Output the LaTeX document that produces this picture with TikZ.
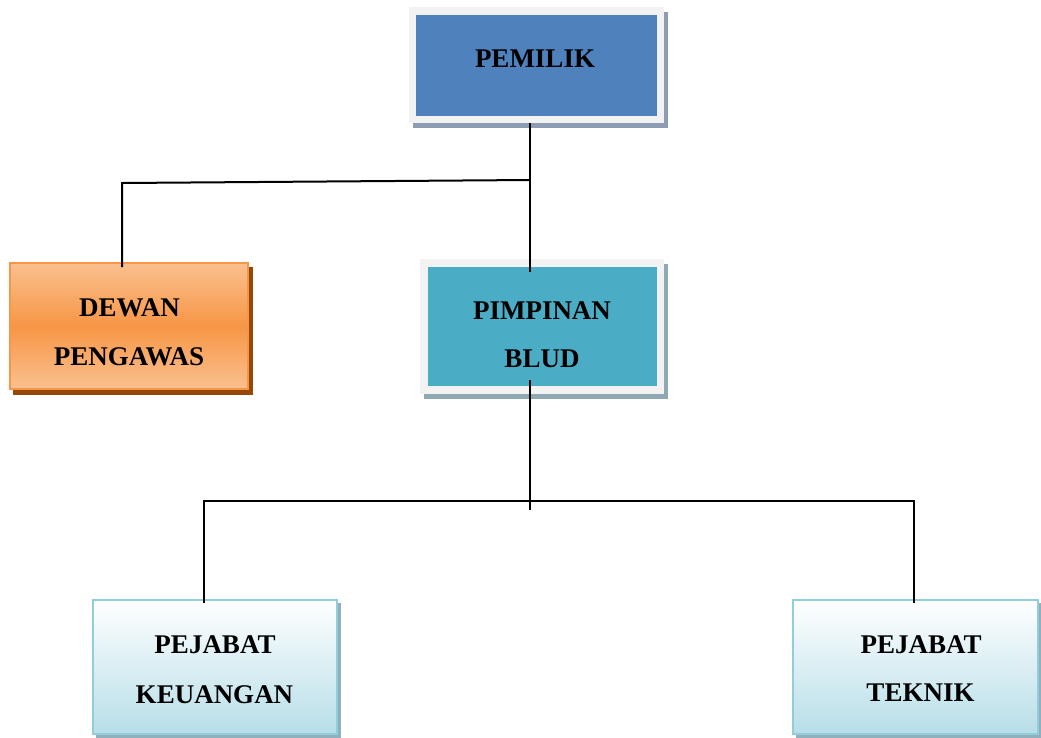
\documentclass[tikz,border=0pt]{standalone}
\usepackage{fontspec}
\setmainfont{Liberation Serif}
\definecolor{pemBlue}{HTML}{4F81BD}
\definecolor{pemShadow}{HTML}{8D9CB2}
\definecolor{frameGray}{HTML}{F2F2F2}
\definecolor{pimTeal}{HTML}{4BACC6}
\definecolor{pimShadow}{HTML}{8EA9B3}
\definecolor{orLight}{HTML}{FAC08F}
\definecolor{orMid}{HTML}{F79646}
\definecolor{orShadow}{HTML}{984806}
\definecolor{pjBorder}{HTML}{92CDDC}
\definecolor{pjBottom}{HTML}{B7DEE8}
\definecolor{pjShadow}{HTML}{8FB0BC}
\begin{document}
\begin{tikzpicture}[x=1pt,y=-1pt,
  conn/.style={line width=2pt, black},
  lbl/.style={font=\fontsize{27}{30}\selectfont\bfseries, inner sep=0pt, anchor=base},
  framebox/.style={draw=frameGray, line width=7.5pt, outer sep=0pt, inner sep=0pt},
  orbox/.style={draw=orMid, line width=2pt, outer sep=0pt, inner sep=0pt,
    top color=orLight, bottom color=orLight, middle color=orMid},
  pjbox/.style={draw=pjBorder, line width=2pt, outer sep=0pt, inner sep=0pt,
    top color=white, bottom color=pjBottom}]
\useasboundingbox (0,0) rectangle (1041,737);
% shadows
\fill[pemShadow] (413,12) rectangle (668,128);
\fill[pimShadow] (424,264) rectangle (668,399);
\fill[orShadow] (13,267) rectangle (253,395);
\fill[pjShadow] (96,603) rectangle (341,738);
\fill[pjShadow] (796,603) rectangle (1041,738);
% boxes
\node[framebox, fill=pemBlue, minimum width=248pt, minimum height=108.5pt] (pem) at (536.5,65.25) {};
\node[framebox, fill=pimTeal, minimum width=236.5pt, minimum height=127pt] (pim) at (542.25,326.5) {};
\node[orbox, minimum width=238pt, minimum height=126pt] (dew) at (129,326) {};
\node[pjbox, minimum width=244pt, minimum height=134pt] (keu) at (215,667) {};
\node[pjbox, minimum width=245pt, minimum height=134pt] (tek) at (915.5,667) {};
% labels
\node[lbl] (pemT) at (535,67) {PEMILIK};
\node[lbl] (dewA) at (129.5,316) {DEWAN};
\node[lbl] (dewB) at (129,365) {PENGAWAS};
\node[lbl] (pimA) at (542,319) {PIMPINAN};
\node[lbl] (pimB) at (542,367) {BLUD};
\node[lbl] (keuA) at (215,653) {PEJABAT};
\node[lbl] (keuB) at (214.5,703) {KEUANGAN};
\node[lbl] (tekA) at (921,653) {PEJABAT};
\node[lbl] (tekB) at (920.5,701) {TEKNIK};
% connector points
\coordinate (pimIn) at (530,272);
\coordinate (jTop) at (530,180);
\coordinate (jDew) at (122,183);
\coordinate (dewIn) at (122,267);
\coordinate (pimOut) at (530,380);
\coordinate (jBot) at (530,510);
\coordinate (jL) at (204,501);
\coordinate (jR) at (914,501);
\coordinate (keuIn) at (204,603);
\coordinate (tekIn) at (914,603);
% connectors
\draw[conn] (530,123) -- (pimIn);
\draw[conn] (jTop) -- (jDew) -- (dewIn);
\draw[conn] (pimOut) -- (jBot);
\draw[conn] (keuIn) -- (jL) -- (jR) -- (tekIn);
\end{tikzpicture}
\end{document}
